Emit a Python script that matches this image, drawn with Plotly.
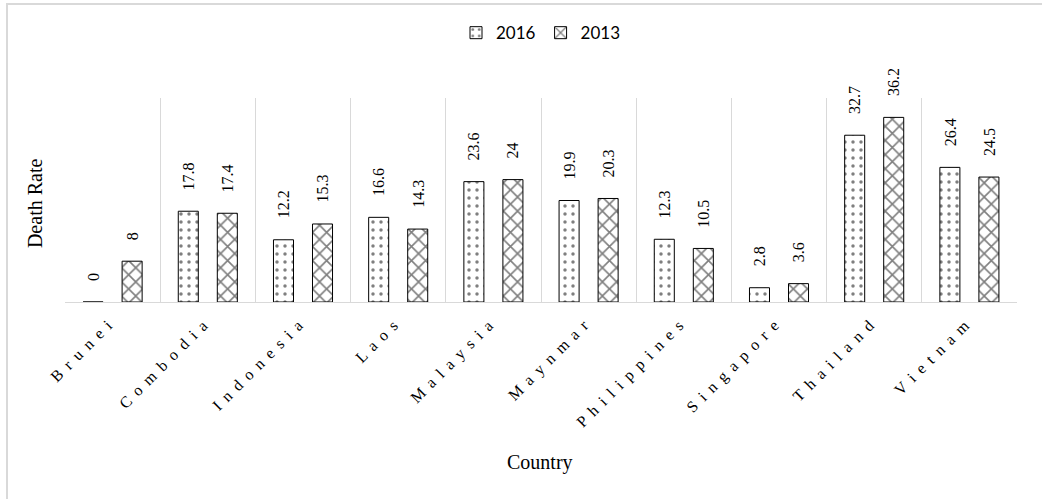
import plotly.graph_objects as go

countries = ["Brunei", "Combodia", "Indonesia", "Laos", "Malaysia",
             "Maynmar", "Philippines", "Singapore", "Thailand", "Vietnam"]
rate_2016 = [0, 17.8, 12.2, 16.6, 23.6, 19.9, 12.3, 2.8, 32.7, 26.4]
rate_2013 = [8, 17.4, 15.3, 14.3, 24, 20.3, 10.5, 3.6, 36.2, 24.5]
series_names = ["2016", "2013"]

SERIF = "Liberation Serif"
GRID = "#d9d9d9"

# widely tracked category labels, as drawn on the axis
spaced = [" \u2009".join(list(c)) for c in countries]

fig = go.Figure()
fig.add_trace(go.Bar(
    name=series_names[0], x=countries, y=rate_2016,
    marker=dict(color="white", line=dict(color="black", width=1),
                pattern=dict(shape=".", size=8, solidity=0.15,
                             fgcolor="black", bgcolor="white")),
))
fig.add_trace(go.Bar(
    name=series_names[1], x=countries, y=rate_2013,
    marker=dict(color="white", line=dict(color="black", width=1),
                pattern=dict(shape="x", size=10, solidity=0.3,
                             fgcolor="black", bgcolor="white")),
))

# rotated value labels above each bar
annotations = []
for vals, shift in ((rate_2016, -19.5), (rate_2013, 19.5)):
    for c, v in zip(countries, vals):
        annotations.append(dict(
            x=c, y=v, xref="x", yref="y", text=f"{v:g}", showarrow=False,
            textangle=-90, xshift=shift, yshift=19, yanchor="bottom",
            font=dict(family=SERIF, size=16, color="black"),
        ))

annotations.append(dict(
    x=-0.0315, y=0.485, xref="paper", yref="paper", text="Death Rate",
    showarrow=False, textangle=-90, xanchor="center", yanchor="middle",
    font=dict(family=SERIF, size=20, color="black"),
))
annotations.append(dict(
    x=0.499, y=-0.789, xref="paper", yref="paper", text="Country",
    showarrow=False, xanchor="center", yanchor="middle",
    font=dict(family=SERIF, size=20, color="black"),
))

fig.update_layout(
    width=1042, height=499,
    margin=dict(l=65, r=25, t=98, b=197, autoexpand=False),
    paper_bgcolor="white", plot_bgcolor="white",
    barmode="group", bargap=0.18, bargroupgap=0.487,
    showlegend=True,
    legend=dict(orientation="h", x=0.5, xanchor="center", y=1.318,
                yanchor="middle", font=dict(family="Lato, Open Sans, sans-serif",
                                            size=17, color="black"),
                itemwidth=30, traceorder="normal"),
    annotations=annotations,
    shapes=[dict(type="rect", xref="paper", yref="paper",
                 x0=-0.0609, x1=1.04, y0=-1.05, y1=1.4608,
                 line=dict(color=GRID, width=2), layer="below")],
)
fig.update_xaxes(
    tickmode="array", tickvals=countries, ticktext=spaced,
    tickangle=-45, tickson="boundaries", ticks="",
    ticklabelstandoff=7, ticklabelshift=-5,
    showgrid=True, gridcolor=GRID, gridwidth=1,
    showline=True, linecolor=GRID, linewidth=1,
    tickfont=dict(family=SERIF, size=16, color="black"),
)
fig.update_yaxes(
    range=[0, 40], showticklabels=False, showgrid=False,
    zeroline=False, showline=False, ticks="",
)

fig.write_html("out.html")
